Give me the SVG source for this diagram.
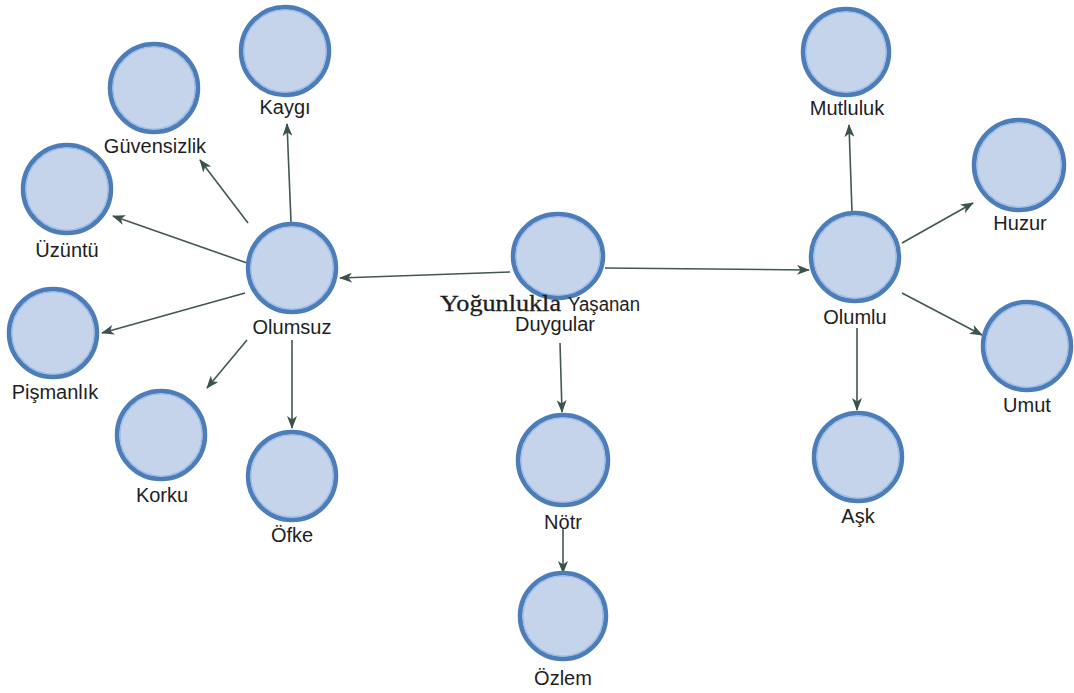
<svg xmlns="http://www.w3.org/2000/svg" width="1074" height="693" viewBox="0 0 1074 693">
  <defs>
    <marker id="arrow" viewBox="0 0 13 10" refX="12" refY="5" markerWidth="13" markerHeight="10" markerUnits="userSpaceOnUse" orient="auto">
      <path d="M0,0 L13,5 L0,10 L3.5,5 z" fill="#3b524d"/>
    </marker>
    <style>
      .ring { fill: #c5d4ea; stroke: #4d7db8; stroke-width: 4.5; }
      .inner { fill: none; stroke: #9cbde6; stroke-width: 1.2; }
      .lbl { font-family: "Liberation Sans", Arial, sans-serif; font-size: 20px; fill: #1e1e1e; text-anchor: middle; }
      .serif { font-family: "Liberation Serif", "Times New Roman", serif; font-size: 23px; fill: #1e1e1e; stroke: #1e1e1e; stroke-width: 0.3; }
      .edge { stroke: #42574f; stroke-width: 1.6; fill: none; marker-end: url(#arrow); }
    </style>
  </defs>
  <rect width="1074" height="693" fill="#ffffff"/>

  <!-- connectors -->
  <g id="connectors">
    <line class="edge" x1="510" y1="272" x2="340" y2="278"/>
    <line class="edge" x1="605" y1="268" x2="809" y2="270"/>
    <line class="edge" x1="560" y1="343" x2="562" y2="412"/>
    <line class="edge" x1="563" y1="528" x2="563" y2="573"/>
    <line class="edge" x1="291" y1="222" x2="287" y2="124"/>
    <line class="edge" x1="248" y1="223" x2="200" y2="160"/>
    <line class="edge" x1="247" y1="263" x2="113" y2="216"/>
    <line class="edge" x1="245" y1="293" x2="102" y2="333"/>
    <line class="edge" x1="247" y1="340" x2="207" y2="388"/>
    <line class="edge" x1="292" y1="340" x2="292" y2="428"/>
    <line class="edge" x1="852" y1="212" x2="849" y2="125"/>
    <line class="edge" x1="902" y1="243" x2="973" y2="203"/>
    <line class="edge" x1="902" y1="293" x2="982" y2="335"/>
    <line class="edge" x1="857" y1="328" x2="857" y2="410"/>
  </g>

  <!-- root node -->
  <g id="node-root">
    <ellipse class="ring" cx="558" cy="256" rx="45" ry="42"/>
    <ellipse class="inner" cx="558" cy="256" rx="42" ry="39"/>
    <text x="440" y="311" class="serif" textLength="121" lengthAdjust="spacingAndGlyphs">Yoğunlukla</text>
    <text x="568" y="311" class="lbl" style="text-anchor:start" textLength="72" lengthAdjust="spacingAndGlyphs">Yaşanan</text>
    <text x="555" y="331" class="lbl">Duygular</text>
  </g>

  <!-- negative branch -->
  <g id="node-olumsuz">
    <circle class="ring" cx="292" cy="268" r="44"/>
    <circle class="inner" cx="292" cy="268" r="41"/>
    <text x="292" y="334" class="lbl">Olumsuz</text>
  </g>
  <g id="node-kaygi">
    <circle class="ring" cx="285" cy="51" r="44"/>
    <circle class="inner" cx="285" cy="51" r="41"/>
    <text x="285" y="114" class="lbl">Kaygı</text>
  </g>
  <g id="node-guvensizlik">
    <circle class="ring" cx="154" cy="88" r="44"/>
    <circle class="inner" cx="154" cy="88" r="41"/>
    <text x="155" y="153" class="lbl">Güvensizlik</text>
  </g>
  <g id="node-uzuntu">
    <circle class="ring" cx="67" cy="189" r="44"/>
    <circle class="inner" cx="67" cy="189" r="41"/>
    <text x="67" y="257" class="lbl">Üzüntü</text>
  </g>
  <g id="node-pismanlik">
    <circle class="ring" cx="53" cy="333" r="44"/>
    <circle class="inner" cx="53" cy="333" r="41"/>
    <text x="55" y="399" class="lbl">Pişmanlık</text>
  </g>
  <g id="node-korku">
    <circle class="ring" cx="161" cy="435" r="44"/>
    <circle class="inner" cx="161" cy="435" r="41"/>
    <text x="162" y="502" class="lbl">Korku</text>
  </g>
  <g id="node-ofke">
    <circle class="ring" cx="292" cy="476" r="44"/>
    <circle class="inner" cx="292" cy="476" r="41"/>
    <text x="292" y="542" class="lbl">Öfke</text>
  </g>

  <!-- neutral branch -->
  <g id="node-notr">
    <circle class="ring" cx="563" cy="460" r="45"/>
    <circle class="inner" cx="563" cy="460" r="42"/>
    <text x="563" y="529" class="lbl">Nötr</text>
  </g>
  <g id="node-ozlem">
    <circle class="ring" cx="563" cy="616" r="43"/>
    <circle class="inner" cx="563" cy="616" r="40"/>
    <text x="563" y="685" class="lbl">Özlem</text>
  </g>

  <!-- positive branch -->
  <g id="node-olumlu">
    <circle class="ring" cx="855" cy="257" r="44"/>
    <circle class="inner" cx="855" cy="257" r="41"/>
    <text x="855" y="324" class="lbl">Olumlu</text>
  </g>
  <g id="node-mutluluk">
    <circle class="ring" cx="846" cy="52" r="43"/>
    <circle class="inner" cx="846" cy="52" r="40"/>
    <text x="847" y="115" class="lbl">Mutluluk</text>
  </g>
  <g id="node-huzur">
    <circle class="ring" cx="1019" cy="165" r="45"/>
    <circle class="inner" cx="1019" cy="165" r="42"/>
    <text x="1020" y="230" class="lbl">Huzur</text>
  </g>
  <g id="node-umut">
    <circle class="ring" cx="1027" cy="346" r="44"/>
    <circle class="inner" cx="1027" cy="346" r="41"/>
    <text x="1027" y="412" class="lbl">Umut</text>
  </g>
  <g id="node-ask">
    <circle class="ring" cx="858" cy="457" r="44"/>
    <circle class="inner" cx="858" cy="457" r="41"/>
    <text x="858" y="523" class="lbl">Aşk</text>
  </g>
</svg>
